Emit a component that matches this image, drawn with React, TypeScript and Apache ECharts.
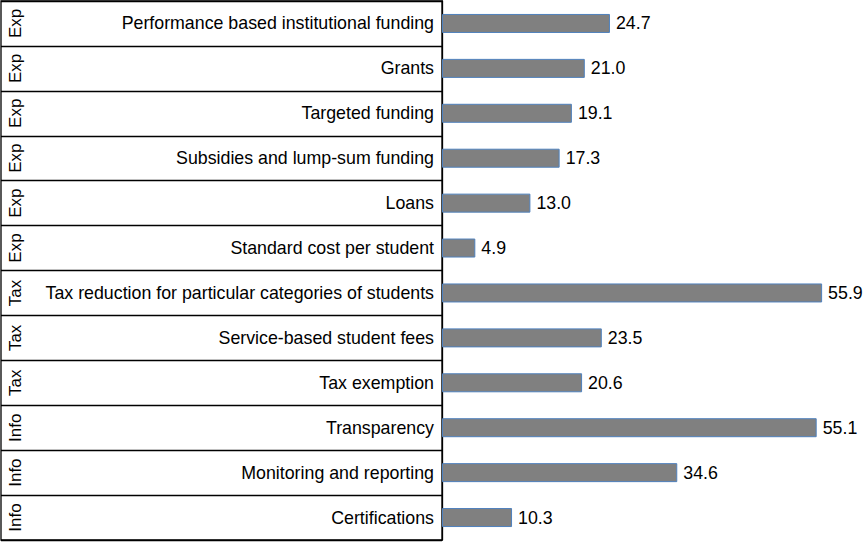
import React, { useEffect, useRef } from "react";
import * as echarts from "echarts";

const categories = [
  "Performance based institutional funding",
  "Grants",
  "Targeted funding",
  "Subsidies and lump-sum funding",
  "Loans",
  "Standard cost per student",
  "Tax reduction for particular categories of students",
  "Service-based student fees",
  "Tax exemption",
  "Transparency",
  "Monitoring and reporting",
  "Certifications",
];
const groups = ["Exp", "Exp", "Exp", "Exp", "Exp", "Exp", "Tax", "Tax", "Tax", "Info", "Info", "Info"];
const values = [24.7, 21.0, 19.1, 17.3, 13.0, 4.9, 55.9, 23.5, 20.6, 55.1, 34.6, 10.3];

const FONT = '"Liberation Sans", Arial, Helvetica, sans-serif';

export default function App() {
  const ref = useRef<HTMLDivElement>(null);
  useEffect(() => {
    if (!ref.current) return;
    const chart = echarts.init(ref.current, null, { renderer: "svg" });
    chart.setOption({
      animation: false,
      backgroundColor: "#fff",
      textStyle: { fontFamily: FONT, color: "#000" },
      grid: [
        { left: 442, right: 14, top: 1, height: 539, containLabel: false },
        {
          left: 1,
          top: 1,
          width: 441,
          height: 539,
          show: true,
          borderColor: "#000",
          borderWidth: 1.3,
          backgroundColor: "transparent",
        },
      ],
      xAxis: [
        { type: "value", gridIndex: 0, min: 0, max: 60, show: false },
        { type: "value", gridIndex: 1, min: 0, max: 1, show: false },
      ],
      yAxis: [
        {
          type: "category",
          gridIndex: 0,
          inverse: true,
          data: categories,
          axisLine: { show: true, lineStyle: { color: "#000", width: 1.3 } },
          axisTick: { show: false },
          axisLabel: { show: false },
          splitLine: { show: false },
        },
        {
          type: "category",
          gridIndex: 1,
          inverse: true,
          position: "right",
          data: categories,
          axisLine: { show: false },
          axisTick: { show: false },
          splitLine: { show: true, lineStyle: { color: "#000", width: 1.3 } },
          axisLabel: {
            inside: true,
            margin: 8,
            fontSize: 17.8,
            color: "#000",
            fontFamily: FONT,
          },
        },
        {
          type: "category",
          gridIndex: 1,
          inverse: true,
          position: "left",
          data: groups,
          axisLine: { show: false },
          axisTick: { show: false },
          splitLine: { show: false },
          axisLabel: {
            inside: true,
            rotate: 90,
            margin: 6,
            fontSize: 17,
            color: "#000",
            fontFamily: FONT,
          },
        },
      ],
      series: [
        {
          type: "bar",
          xAxisIndex: 0,
          yAxisIndex: 0,
          data: values,
          barWidth: 19,
          itemStyle: { color: "#808080", borderColor: "#4F81BD", borderWidth: 1 },
          label: {
            show: true,
            position: "right",
            distance: 6,
            fontSize: 17.8,
            color: "#000",
            fontFamily: FONT,
            formatter: (p: any) => Number(p.value).toFixed(1),
          },
        },
      ],
    });
    return () => chart.dispose();
  }, []);
  return (
    <div
      ref={ref}
      style={{ position: "fixed", left: 0, top: 0, width: 864, height: 542, background: "#fff" }}
    />
  );
}
